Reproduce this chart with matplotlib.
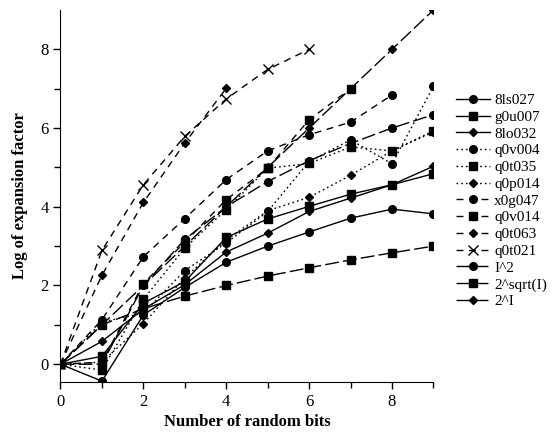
import matplotlib
matplotlib.use('Agg')
import matplotlib.pyplot as plt

plt.rcParams['font.family'] = ['Liberation Serif', 'DejaVu Serif']

# values (x = 0, 1, 2, ...)
s_8ls027 = [0, -0.43, 1.25, 1.95, 2.59, 3.0, 3.36, 3.71, 3.94, 3.82]
s_g0u007 = [0, 0.2, 1.55, 2.1, 3.22, 3.69, 4.01, 4.32, 4.56, 4.84]
s_8lo032 = [0, 0.58, 1.4, 2.02, 2.85, 3.33, 3.88, 4.22, 4.56, 5.03]
s_q0v004 = [0, 1.07, 1.3, 2.38, 3.08, 3.88, 5.15, 5.7, 5.09, 7.06]
s_q0t035 = [0, -0.15, 1.65, 2.95, 3.93, 4.98, 5.1, 5.52, 5.42, 5.93]
s_q0p014 = [0, 0.05, 1.03, 2.2, 3.15, 3.9, 4.24, 4.8, 5.42, 5.9]
s_x0g047 = [0, 1.13, 2.73, 3.7, 4.69, 5.42, 5.83, 6.15, 6.84]
s_q0v014 = [0, 0.05, 2.05, 3.1, 4.18, 4.98, 6.21, 7.0]
s_q0t063 = [0, 2.26, 4.11, 5.62, 7.01]
s_q0t021 = [0, 2.89, 4.56, 5.79, 6.74, 7.49, 8.0]
s_isq = [0, 0, 2.0, 3.17, 4.0, 4.64, 5.17, 5.61, 6.0, 6.34]
s_2sqrt = [0, 1.0, 1.41, 1.73, 2.0, 2.24, 2.45, 2.65, 2.83, 3.0]
s_2i = [0, 1, 2, 3, 4, 5, 6, 7, 8, 9]

labels = ['8ls027', 'g0u007', '8lo032', 'q0v004', 'q0t035', 'q0p014',
          'x0g047', 'q0v014', 'q0t063', 'q0t021', 'I^2', '2^sqrt(I)', '2^I']
series = [s_8ls027, s_g0u007, s_8lo032, s_q0v004, s_q0t035, s_q0p014,
          s_x0g047, s_q0v014, s_q0t063, s_q0t021, s_isq, s_2sqrt, s_2i]

solid = '-'
dotted = (0, (1.2, 2.2))
dashed = (0, (5, 4))
longdash = (0, (10, 3))
styles = [solid] * 3 + [dotted] * 3 + [dashed] * 4 + [longdash] * 3
markers = ['o', 's', 'D', 'o', 's', 'D', 'o', 's', 'D', 'x', 'o', 's', 'D']
msizes = {'o': 5.5, 's': 5.5, 'D': 3.8, 'x': 6.5}

fig = plt.figure(figsize=(5.6, 4.34), dpi=100)
ax = fig.add_axes([0.108, 0.12, 0.666, 0.857])

for lab, ys, ls, m in zip(labels, series, styles, markers):
    ax.plot(range(len(ys)), ys, color='black', linestyle=ls, linewidth=1.0,
            marker=m, markersize=msizes[m], markeredgewidth=1.0, label=lab)

ax.set_xlim(0, 9)
ax.set_ylim(-0.45, 9.0)
ax.set_xticks([0, 2, 4, 6, 8])
ax.set_xticks([1, 3, 5, 7, 9], minor=True)
ax.set_yticks([0, 2, 4, 6, 8])
ax.set_yticks([1, 3, 5, 7], minor=True)
ax.tick_params(which='both', direction='out', labelsize=12, width=1)
ax.tick_params(which='major', length=5)
ax.tick_params(which='minor', length=4)
ax.spines['top'].set_visible(False)
ax.spines['right'].set_visible(False)

ax.set_xlabel('Number of random bits', fontsize=12, fontweight='bold', labelpad=3)
ax.set_ylabel('Log of expansion factor', fontsize=12, fontweight='bold', labelpad=9)

fig.legend(loc='center left', bbox_to_anchor=(0.79, 0.537), frameon=False,
           fontsize=11, handlelength=2.2, labelspacing=0.2, handletextpad=0.3)

fig.savefig('out.png', dpi=100)
